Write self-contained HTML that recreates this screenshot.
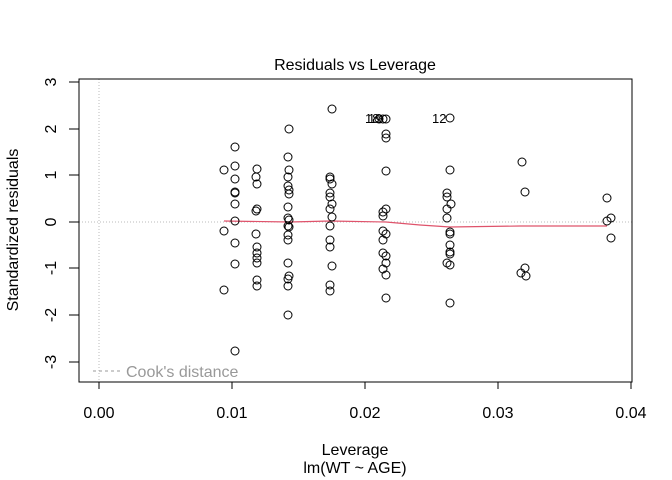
<!DOCTYPE html>
<html><head><meta charset="utf-8"><style>body{margin:0;background:#fff}svg{display:block}text{font-family:"Liberation Sans",sans-serif}</style></head>
<body>
<svg width="672" height="480" viewBox="0 0 672 480" xmlns="http://www.w3.org/2000/svg">
<rect width="672" height="480" fill="#fff"/>
<line x1="99" y1="79" x2="99" y2="382" stroke="#bbb" stroke-dasharray="1,2"/>
<line x1="79" y1="222" x2="632" y2="222" stroke="#bbb" stroke-dasharray="1,2"/>
<polyline points="224,221 290,222 330,221 386,222 420,225 450,227 520,226 607,226" fill="none" stroke="#DF536B" stroke-width="1.2"/>
<g fill="none" stroke="#000" stroke-width="1">
<circle cx="224" cy="170" r="4"/><circle cx="224" cy="231" r="4"/><circle cx="224" cy="290" r="4"/>
<circle cx="235" cy="147" r="4"/><circle cx="235" cy="166" r="4"/><circle cx="235" cy="179" r="4"/><circle cx="235" cy="192" r="4"/><circle cx="235" cy="193" r="4"/><circle cx="235" cy="204" r="4"/><circle cx="235" cy="221" r="4"/><circle cx="235" cy="243" r="4"/><circle cx="235" cy="264" r="4"/><circle cx="235" cy="351" r="4"/>
<circle cx="257" cy="169" r="4"/><circle cx="256" cy="177" r="4"/><circle cx="257" cy="184" r="4"/><circle cx="257" cy="209" r="4"/><circle cx="256" cy="211" r="4"/><circle cx="256" cy="234" r="4"/><circle cx="257" cy="247" r="4"/><circle cx="257" cy="253" r="4"/><circle cx="257" cy="258" r="4"/><circle cx="257" cy="263" r="4"/><circle cx="257" cy="280" r="4"/><circle cx="257" cy="286" r="4"/>
<circle cx="289" cy="129" r="4"/><circle cx="288" cy="157" r="4"/><circle cx="289" cy="170" r="4"/><circle cx="288" cy="177" r="4"/><circle cx="288" cy="186" r="4"/><circle cx="289" cy="190" r="4"/><circle cx="289" cy="194" r="4"/><circle cx="288" cy="207" r="4"/><circle cx="288" cy="218" r="4"/><circle cx="289" cy="220" r="4"/><circle cx="288" cy="226" r="4"/><circle cx="289" cy="227" r="4"/><circle cx="288" cy="235" r="4"/><circle cx="288" cy="240" r="4"/><circle cx="288" cy="263" r="4"/><circle cx="289" cy="276" r="4"/><circle cx="288" cy="279" r="4"/><circle cx="288" cy="286" r="4"/><circle cx="288" cy="315" r="4"/>
<circle cx="332" cy="109" r="4"/><circle cx="330" cy="177" r="4"/><circle cx="330" cy="179" r="4"/><circle cx="332" cy="184" r="4"/><circle cx="330" cy="193" r="4"/><circle cx="330" cy="197" r="4"/><circle cx="332" cy="204" r="4"/><circle cx="330" cy="209" r="4"/><circle cx="332" cy="217" r="4"/><circle cx="330" cy="226" r="4"/><circle cx="330" cy="240" r="4"/><circle cx="330" cy="247" r="4"/><circle cx="332" cy="266" r="4"/><circle cx="330" cy="285" r="4"/><circle cx="330" cy="291" r="4"/>
<circle cx="379" cy="119" r="4"/><circle cx="383" cy="119" r="4"/><circle cx="386" cy="119" r="4"/><circle cx="386" cy="134" r="4"/><circle cx="386" cy="138" r="4"/><circle cx="386" cy="171" r="4"/><circle cx="386" cy="209" r="4"/><circle cx="383" cy="212" r="4"/><circle cx="383" cy="216" r="4"/><circle cx="383" cy="231" r="4"/><circle cx="386" cy="234" r="4"/><circle cx="383" cy="240" r="4"/><circle cx="383" cy="253" r="4"/><circle cx="386" cy="256" r="4"/><circle cx="386" cy="263" r="4"/><circle cx="383" cy="269" r="4"/><circle cx="386" cy="275" r="4"/><circle cx="386" cy="298" r="4"/>
<circle cx="450" cy="118" r="4"/><circle cx="450" cy="170" r="4"/><circle cx="447" cy="193" r="4"/><circle cx="447" cy="197" r="4"/><circle cx="451" cy="204" r="4"/><circle cx="447" cy="209" r="4"/><circle cx="447" cy="218" r="4"/><circle cx="450" cy="232" r="4"/><circle cx="450" cy="234" r="4"/><circle cx="450" cy="245" r="4"/><circle cx="450" cy="252" r="4"/><circle cx="450" cy="254" r="4"/><circle cx="447" cy="263" r="4"/><circle cx="450" cy="265" r="4"/><circle cx="450" cy="303" r="4"/>
<circle cx="522" cy="162" r="4"/><circle cx="525" cy="192" r="4"/><circle cx="525" cy="268" r="4"/><circle cx="521" cy="273" r="4"/><circle cx="526" cy="276" r="4"/>
<circle cx="607" cy="198" r="4"/><circle cx="611" cy="218" r="4"/><circle cx="607" cy="221" r="4"/><circle cx="611" cy="238" r="4"/>
</g>
<g font-size="13" fill="#000">
<text x="365" y="123">18</text><text x="368" y="123">19</text>
<text x="432" y="123">12</text>
</g>
<line x1="93" y1="371" x2="122" y2="371" stroke="#999" stroke-dasharray="3,3"/>
<text x="126" y="377" font-size="16" fill="#999">Cook's distance</text>
<rect x="79" y="79" width="553" height="303" fill="none" stroke="#000"/>
<g stroke="#000">
<line x1="99" y1="382" x2="99" y2="389"/><line x1="232" y1="382" x2="232" y2="389"/><line x1="365" y1="382" x2="365" y2="389"/><line x1="498" y1="382" x2="498" y2="389"/><line x1="631" y1="382" x2="631" y2="389"/>
<line x1="69" y1="82" x2="79" y2="82"/><line x1="69" y1="129" x2="79" y2="129"/><line x1="69" y1="175" x2="79" y2="175"/><line x1="69" y1="222" x2="79" y2="222"/><line x1="69" y1="268" x2="79" y2="268"/><line x1="69" y1="315" x2="79" y2="315"/><line x1="69" y1="362" x2="79" y2="362"/>
</g>
<g font-size="16" text-anchor="middle">
<text x="99" y="418">0.00</text><text x="232" y="418">0.01</text><text x="365" y="418">0.02</text><text x="498" y="418">0.03</text><text x="631" y="418">0.04</text>
<text transform="translate(56,82) rotate(-90)">3</text>
<text transform="translate(56,129) rotate(-90)">2</text>
<text transform="translate(56,175) rotate(-90)">1</text>
<text transform="translate(56,222) rotate(-90)">0</text>
<text transform="translate(56,268) rotate(-90)">-1</text>
<text transform="translate(56,315) rotate(-90)">-2</text>
<text transform="translate(56,362) rotate(-90)">-3</text>
<text transform="translate(18,230) rotate(-90)">Standardized residuals</text>
<text x="355" y="455">Leverage</text>
<text x="355" y="473">lm(WT ~ AGE)</text>
<text x="355" y="70" font-size="16">Residuals vs Leverage</text>
</g>
</svg>
</body></html>
